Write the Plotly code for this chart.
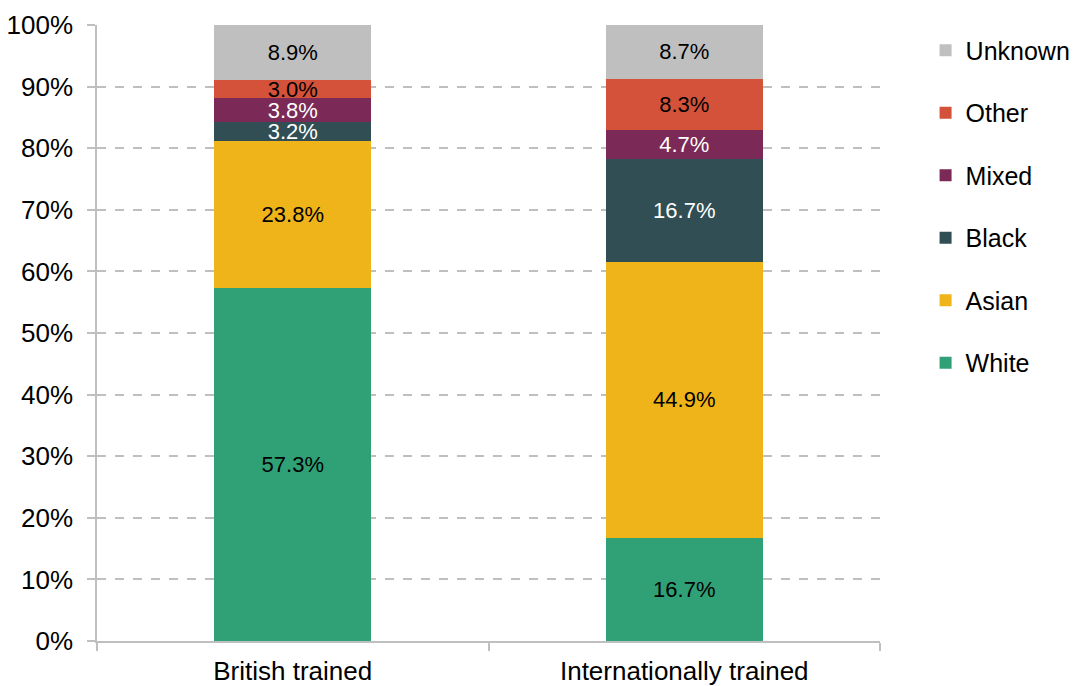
import plotly.graph_objects as go

categories = ['British trained', 'Internationally trained']
groups = ['White', 'Asian', 'Black', 'Mixed', 'Other', 'Unknown']
white = [57.3, 16.7]
asian = [23.8, 44.9]
black = [3.2, 16.7]
mixed = [3.8, 4.7]
other = [3.0, 8.3]
unknown = [8.9, 8.7]
y_ticks = list(range(0, 101, 10))
y_labels = [f'{v}%' for v in y_ticks]

series = [white, asian, black, mixed, other, unknown]
colors = ['#30a077', '#f0b41b', '#314e55', '#7b2956', '#d4523a', '#bfbfbf']
text_colors = ['black', 'black', 'white', 'white', 'black', 'black']

fig = go.Figure()
for i, (name, vals) in enumerate(zip(groups, series)):
    fig.add_trace(go.Bar(
        x=categories, y=vals, name=name,
        marker=dict(color=colors[i], line=dict(width=0)),
        texttemplate='%{y:.1f}%', textposition='inside',
        insidetextanchor='middle', textangle=0, constraintext='none',
        textfont=dict(color=text_colors[i], size=22, family='Liberation Sans'),
        legendgroup=name, legendrank=len(groups) - i, hoverinfo='skip'
    ))

fig.update_layout(
    barmode='stack', bargap=0.6,
    width=1075, height=686,
    plot_bgcolor='white', paper_bgcolor='white',
    font=dict(family='Liberation Sans', size=26, color='black'),
    margin=dict(l=97, r=195, t=25, b=45, autoexpand=False),
    legend=dict(xref='container', yref='container', x=0.861, y=0.96,
                xanchor='left', yanchor='top', maxheight=600,
                traceorder='grouped', tracegroupgap=27,
                font=dict(size=25)),
    xaxis=dict(showline=True, linecolor='#bfbfbf', linewidth=1.5,
               ticks='outside', tickson='boundaries', ticklen=8,
               tickcolor='#bfbfbf', tickwidth=1.5, automargin=False,
               ticklabelstandoff=6),
    yaxis=dict(range=[0, 100], tickvals=y_ticks, ticktext=y_labels,
               showline=True, linecolor='#bfbfbf', linewidth=1.5,
               ticks='outside', ticklen=8, tickcolor='#bfbfbf', tickwidth=1.5,
               showgrid=True, gridcolor='#bfbfbf', griddash='dash', gridwidth=1.5,
               zeroline=False, automargin=False, ticklabelstandoff=9),
)

# drop the default page margin so the figure fills the window
fig.write_html('out.html', config={'displayModeBar': False},
               post_script="document.body.style.margin='0';document.body.style.overflow='hidden';")
